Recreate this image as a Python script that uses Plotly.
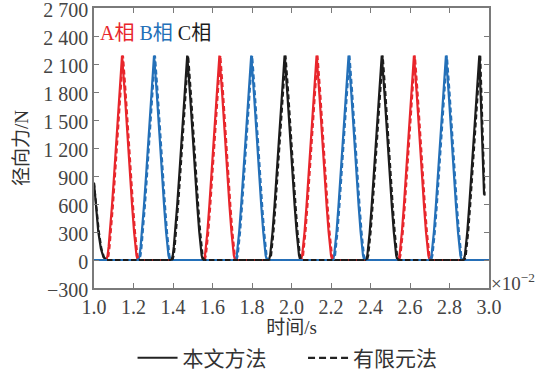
import plotly.graph_objects as go

# ---- data (time in units of 1e-2 s, force in N) ----
# shape of one force pulse: offset from its peak and force value (rising half)
pulse_offset = [-0.085, -0.078, -0.073, -0.068, -0.061, -0.051, -0.0405, -0.027, -0.0137, 0.0]
pulse_force = [0, 10, 50, 140, 300, 580, 900, 1330, 1790, 2190]

# peak times of each phase, analytical method and finite-element method
peaks_A = [1.142, 1.635, 2.127, 2.620]
peaks_B = [1.304, 1.796, 2.289, 2.782]
peaks_C = [1.472, 1.965, 2.457, 2.951]
peaks_A_fem = [1.147, 1.640, 2.132, 2.625]
peaks_B_fem = [1.309, 1.801, 2.294, 2.787]
peaks_C_fem = [1.477, 1.970, 2.462, 2.956]

# phase C start and end of the computed interval
c_head_t = [1.000, 1.010, 1.022, 1.035, 1.048, 1.062]
c_head_f = [823, 560, 300, 120, 30, 0]
c_head_t_fem = [1.000, 1.012, 1.025, 1.038, 1.051, 1.066]
c_head_f_fem = [830, 560, 300, 120, 30, 0]
c_tail_t = [2.975]
c_tail_f = [700]
c_tail_t_fem = [2.978]
c_tail_f_fem = [690]

phase_labels = ["A相", "B相", "C相"]
phase_colors = ["#e8262c", "#2470b8", "#1c1c1c"]
method_labels = ["本文方法", "有限元法"]

x_ticks = [1.0, 1.2, 1.4, 1.6, 1.8, 2.0, 2.2, 2.4, 2.6, 2.8, 3.0]
x_ticktext = ["1.0", "1.2", "1.4", "1.6", "1.8", "2.0", "2.2", "2.4", "2.6", "2.8", "3.0"]
y_ticks = [-300, 0, 300, 600, 900, 1200, 1500, 1800, 2100, 2400, 2700]
y_ticktext = ["\u2212300", "0", "300", "600", "900", "1 200", "1 500", "1 800", "2 100", "2 400", "2 700"]


def pulse_train(peaks, head_t=None, head_f=None, tail_t=None, tail_f=None):
    """Chain the pulse shape at each peak time into one curve."""
    t, f = [], []
    if head_t:
        t += head_t
        f += head_f
    else:
        t.append(1.0)
        f.append(0)
    rise = list(zip(pulse_offset, pulse_force))
    fall = list(zip([-o for o in pulse_offset[::-1]], pulse_force[::-1]))[1:]
    for i, p in enumerate(peaks):
        for o, v in rise:
            t.append(p + o)
            f.append(v)
        if i == len(peaks) - 1 and tail_t:
            t += tail_t
            f += tail_f
        else:
            for o, v in fall:
                t.append(p + o)
                f.append(v)
    if not tail_t:
        t.append(3.0)
        f.append(0)
    return t, f


curves = [
    (pulse_train(peaks_A), pulse_train(peaks_A_fem)),
    (pulse_train(peaks_B), pulse_train(peaks_B_fem)),
    (pulse_train(peaks_C, c_head_t, c_head_f, c_tail_t, c_tail_f),
     pulse_train(peaks_C_fem, c_head_t_fem, c_head_f_fem, c_tail_t_fem, c_tail_f_fem)),
]

fig = go.Figure()

for (sol, fem), color in zip(curves, phase_colors):
    fig.add_trace(go.Scatter(x=sol[0], y=sol[1], mode="lines",
                             line=dict(color=color, width=2.2),
                             showlegend=False, hoverinfo="skip"))
for (sol, fem), color in zip(curves, phase_colors):
    fig.add_trace(go.Scatter(x=fem[0], y=fem[1], mode="lines",
                             line=dict(color=color, width=2, dash="5px,3px"),
                             showlegend=False, hoverinfo="skip"))

# legend entries
fig.add_trace(go.Scatter(x=[None], y=[None], mode="lines", name=method_labels[0] + "      ",
                         line=dict(color="#222222", width=2)))
fig.add_trace(go.Scatter(x=[None], y=[None], mode="lines", name=method_labels[1],
                         line=dict(color="#222222", width=2.2, dash="7px,4px")))

serif = "Liberation Serif"
cjk = "Liberation Serif, Noto Sans CJK SC"
axis_gray = "#7a7a7a"
label_gray = "#444444"

phase_text = " ".join(
    f"<span style='color:{c}'>{lab}</span>" for lab, c in zip(phase_labels, phase_colors)
)
fig.add_annotation(x=0.01, y=0.91, xref="paper", yref="paper", xanchor="left", yanchor="middle",
                   text=phase_text, showarrow=False, font=dict(family=cjk, size=20))
fig.add_annotation(x=1.0, y=0.02, xref="paper", yref="paper", xanchor="left", yanchor="middle",
                   text="×10<sup>\u22122</sup>", showarrow=False,
                   font=dict(family=serif, size=19, color=label_gray))

axis_common = dict(showline=True, linecolor=axis_gray, linewidth=1.5, mirror="ticks",
                   ticks="inside", ticklen=5, tickwidth=1.2, tickcolor=axis_gray,
                   showgrid=False, zeroline=False, automargin=False,
                   ticklabeloverflow="allow",
                   tickfont=dict(family=serif, size=20, color=label_gray))

fig.update_xaxes(range=[1.0, 3.0], tickvals=x_ticks, ticktext=x_ticktext,
                 title=dict(text="时间/s", font=dict(family=cjk, size=19, color="#333333"),
                            standoff=6),
                 **axis_common)
fig.update_yaxes(range=[-300, 2700], tickvals=y_ticks, ticktext=y_ticktext,
                 ticklabelshift=2,
                 title=dict(text="径向力/N", font=dict(family=cjk, size=19, color="#333333"),
                            standoff=10),
                 **axis_common)

fig.update_layout(
    width=548, height=377,
    margin=dict(l=94, r=59, t=8, b=89, autoexpand=False),
    plot_bgcolor="white", paper_bgcolor="white",
    legend=dict(orientation="h", x=0.49, xanchor="center", xref="paper",
                y=0.05, yanchor="middle", yref="container",
                font=dict(family=cjk, size=21, color="#333333"),
                itemwidth=40, bgcolor="rgba(0,0,0,0)"),
)

fig.write_html("out.html")
